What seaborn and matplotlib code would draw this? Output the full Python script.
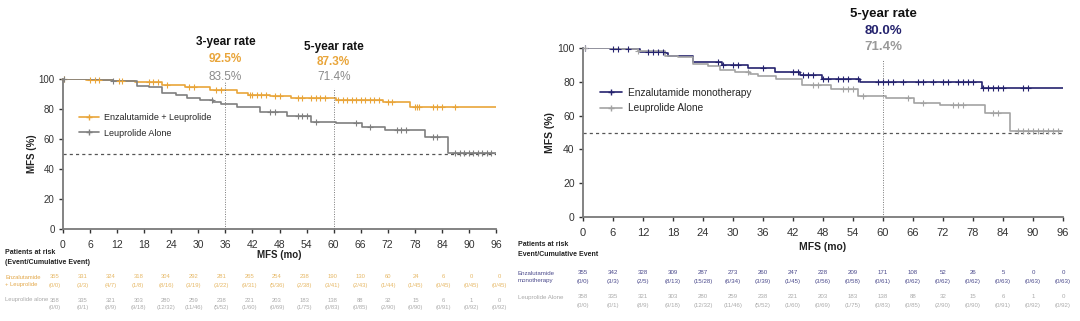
import numpy as np
import pandas as pd
import matplotlib
matplotlib.use("Agg")
import matplotlib.pyplot as plt
import seaborn as sns

sns.set_theme(style="white")
plt.rcParams["font.family"] = ["Liberation Sans", "DejaVu Sans"]

# ---- data ---------------------------------------------------------------
months = list(range(0, 97, 6))

# Kaplan-Meier step points (time in months, MFS %)
enz_leu_t = [0, 5, 11, 16, 22, 27, 32.5, 38.5, 41, 46, 50.5, 60.5, 71, 77]
enz_leu_s = [100, 99.3, 98.6, 97.9, 96.2, 95.0, 92.5, 90.8, 89.4, 88.8, 87.3, 85.8, 84.5, 81.5]

leu_t = [0, 7.5, 11, 16.3, 19, 22, 25, 27.4, 30.4, 33.3, 35, 38.5, 43.7, 49.6, 55, 60.5, 66.2, 71.4, 80.3, 85.3]
leu_s = [100, 99.3, 98.5, 95.3, 94.5, 90.4, 89.5, 87.1, 86.0, 84.4, 83.5, 81.5, 78.0, 75.5, 71.4, 70.5, 67.7, 66.0, 61.5, 51.0]

enz_mono_t = [0, 5.4, 9.4, 11.4, 16.4, 17, 22, 27.7, 33, 38.4, 43.4, 47.7, 55.4, 79.7]
enz_mono_s = [100, 99.5, 99.2, 97.8, 96.8, 95.3, 91.9, 89.9, 88.0, 86.0, 84.0, 81.7, 80.0, 76.2]

# censoring times
enz_leu_cens = [0.3, 6, 7, 8, 12.5, 13, 19, 20, 21, 23, 28, 29, 34, 35, 41.5, 42, 43, 44, 45,
                47, 48, 52, 53, 55, 56, 57, 58, 61, 62, 63, 64, 65, 66, 67, 68, 69, 70, 72,
                73, 78, 78.5, 79, 82, 83, 84, 87]
leu_cens = [0.3, 11, 33, 46, 47, 52, 53, 54, 56, 65, 68, 74, 75, 76, 82, 83, 87, 88, 89, 90,
            91, 92, 93, 94, 95]
enz_mono_cens = [0.3, 6, 7, 9, 13, 14, 15, 16, 27, 28, 30, 31, 36, 42, 43, 44, 45, 46, 48, 49,
                 51, 52, 53, 55, 59, 60, 61, 62, 64, 67, 68, 70, 72, 73, 75, 76, 77, 78, 80,
                 81, 82, 83, 84, 88, 89]

# rates
left_rates = {"3-year rate": (36, "92.5%", "83.5%"), "5-year rate": (60, "87.3%", "71.4%")}
right_rate = ("5-year rate", 60, "80.0%", "71.4%")

# numbers at risk (event / cumulative event)
risk_enz_leu = [355, 331, 324, 318, 304, 292, 281, 265, 254, 238, 190, 130, 60, 24, 6, 0, 0]
ev_enz_leu = ["(0/0)", "(3/3)", "(4/7)", "(1/8)", "(8/16)", "(3/19)", "(3/22)", "(9/31)", "(5/36)",
              "(2/38)", "(3/41)", "(2/43)", "(1/44)", "(1/45)", "(0/45)", "(0/45)", "(0/45)"]
risk_leu = [358, 335, 321, 303, 280, 259, 238, 221, 203, 183, 138, 88, 32, 15, 6, 1, 0]
ev_leu = ["(0/0)", "(0/1)", "(8/9)", "(9/18)", "(12/32)", "(11/46)", "(5/52)", "(1/60)", "(0/69)",
          "(1/75)", "(0/83)", "(0/85)", "(2/90)", "(0/90)", "(0/91)", "(0/92)", "(0/92)"]
risk_enz_mono = [355, 342, 328, 309, 287, 273, 260, 247, 228, 209, 171, 108, 52, 26, 5, 0, 0]
ev_enz_mono = ["(0/0)", "(3/3)", "(2/5)", "(8/13)", "(15/28)", "(6/34)", "(3/39)", "(1/45)", "(3/56)",
               "(0/58)", "(0/61)", "(0/62)", "(0/62)", "(0/62)", "(0/63)", "(0/63)", "(0/63)"]

ORANGE = "#E9A53A"
GRAY_L = "#7F7F7F"
NAVY = "#25236E"
GRAY_R = "#A3A3A3"

W, H = 1080, 321
fig = plt.figure(figsize=(W / 100, H / 100), dpi=100)


def px(x, y):
    return x / W, 1 - y / H


def step_df(t, s, name):
    t = list(t) + [96]
    s = list(s) + [s[-1]]
    return pd.DataFrame({"t": t, "s": s, "arm": name})


def surv_at(t, s, x):
    i = np.searchsorted(np.asarray(t), np.asarray(x), side="right") - 1
    return np.asarray(s)[i]


def km_axes(rect, arms, tick_fs, ytick_fs, lab_fs, leg_fs, leg_loc, leg_sp, ypad):
    ax = fig.add_axes(rect)
    df = pd.concat([step_df(t, s, n) for n, t, s, c, cens in arms])
    pal = {n: c for n, t, s, c, cens in arms}
    sns.lineplot(data=df, x="t", y="s", hue="arm", palette=pal, drawstyle="steps-post",
                 estimator=None, sort=False, linewidth=1.2, ax=ax, legend=False)
    for n, t, s, c, cens in arms:
        sns.scatterplot(x=cens, y=surv_at(t, s, cens), marker="+", s=14, color=c,
                        linewidth=0.8, ax=ax, clip_on=False, zorder=3)
    ax.axhline(50, color="#555555", lw=0.9, ls=(0, (2.5, 2.5)), zorder=1)
    ax.set_xlim(0, 96)
    ax.set_ylim(0, 100)
    ax.set_xticks(months)
    ax.set_yticks(range(0, 101, 20))
    ax.tick_params(axis="x", labelsize=tick_fs, colors="#333333", length=3, width=1,
                   direction="out", pad=5, bottom=True)
    ax.tick_params(axis="y", labelsize=ytick_fs, colors="#333333", length=3, width=1,
                   direction="out", pad=3, left=True)
    for sp in ["top", "right"]:
        ax.spines[sp].set_visible(False)
    for sp in ["left", "bottom"]:
        ax.spines[sp].set_color("#7A7A7A")
        ax.spines[sp].set_linewidth(1.3)
    ax.set_xlabel("MFS (mo)", fontsize=lab_fs, fontweight="bold", color="#222222")
    ax.set_ylabel("MFS (%)", fontsize=lab_fs, fontweight="bold", color="#222222", labelpad=ypad)
    handles = [plt.Line2D([], [], color=c, marker="+", ms=4, lw=1.2) for n, t, s, c, cens in arms]
    ax.legend(handles, [n for n, *_ in arms], loc="upper left", bbox_to_anchor=leg_loc,
              frameon=False, fontsize=leg_fs, handlelength=2.2, handletextpad=0.6,
              labelspacing=leg_sp, borderaxespad=0, borderpad=0)
    return ax


# ---- left panel: Enzalutamide + Leuprolide vs Leuprolide alone ----------
axL = km_axes([63 / W, (H - 229) / H, 433 / W, 150 / H],
              [("Enzalutamide + Leuprolide", enz_leu_t, enz_leu_s, ORANGE, enz_leu_cens),
               ("Leuprolide Alone", leu_t, leu_s, GRAY_L, leu_cens)],
              7.5, 7, 7, 6.5, (0.037, 0.775), 0.75, 1)
axL.xaxis.set_label_coords(0.5, -0.14)
axL.xaxis.label.set_va("top")
axL.vlines([36], 0, 98, colors="#777777", lw=0.7, ls=(0, (1, 1.5)))
axL.vlines([60], 0, 94, colors="#777777", lw=0.7, ls=(0, (1, 1.5)))

for title, (tx, a, b), ys in [("3-year rate", left_rates["3-year rate"], (42, 59, 77)),
                              ("5-year rate", left_rates["5-year rate"], (47, 62, 77))]:
    xp = 63 + tx * 433 / 96
    fig.text(*px(xp, ys[0]), title, ha="center", va="center", fontsize=8.5,
             fontweight="bold", color="#111111")
    fig.text(*px(xp, ys[1]), a, ha="center", va="center", fontsize=8.5,
             fontweight="bold", color=ORANGE)
    fig.text(*px(xp, ys[2]), b, ha="center", va="center", fontsize=8.5, color="#8A8A8A")

# ---- right panel: Enzalutamide monotherapy vs Leuprolide alone ---------
axR = km_axes([583 / W, (H - 217) / H, 480 / W, 169 / H],
              [("Enzalutamide monotherapy", enz_mono_t, enz_mono_s, NAVY, enz_mono_cens),
               ("Leuprolide Alone", leu_t, leu_s, GRAY_R, leu_cens)],
              8, 7.5, 7.5, 7.3, (0.035, 0.765), 0.55, 2)
axR.xaxis.set_label_coords(0.5, -0.148)
axR.xaxis.label.set_va("top")
axR.vlines([60], 0, 93, colors="#777777", lw=0.7, ls=(0, (1, 1.5)))

title, tx, a, b = right_rate
xp = 583 + tx * 480 / 96
fig.text(*px(xp, 14), title, ha="center", va="center", fontsize=9.5, fontweight="bold",
         color="#111111")
fig.text(*px(xp, 31), a, ha="center", va="center", fontsize=9.5, fontweight="bold", color=NAVY)
fig.text(*px(xp, 47), b, ha="center", va="center", fontsize=9.5, fontweight="bold",
         color="#9A9A9A")

# ---- numbers at risk ---------------------------------------------------
fig.text(*px(5, 253), "Patients at risk", fontsize=5, fontweight="bold", va="center",
         color="#222222")
fig.text(*px(5, 262), "(Event/Cumulative Event)", fontsize=5, fontweight="bold", va="center",
         color="#222222")
fig.text(*px(5, 281), "Enzalutamide\n+ Leuprolide", fontsize=4.2, va="center",
         color="#E3A84A", linespacing=1.3)
fig.text(*px(5, 300), "Leuprolide alone", fontsize=4.2, va="center", color="#A8A8A8")

fig.text(*px(518, 245), "Patients at risk", fontsize=5, fontweight="bold", va="center",
         color="#222222")
fig.text(*px(518, 254), "Event/Cumulative Event", fontsize=5, fontweight="bold", va="center",
         color="#222222")
fig.text(*px(518, 277), "Enzalutamide\nmonotherapy", fontsize=4.4, va="center",
         color="#4B4A8C", linespacing=1.3)
fig.text(*px(518, 297), "Leuprolide Alone", fontsize=4.4, va="center", color="#A8A8A8")


def risk_row(xs, counts, events, y1, y2, color, fs):
    for x, n, e in zip(xs, counts, events):
        fig.text(*px(x, y1), str(n), ha="center", va="center", fontsize=fs, color=color)
        fig.text(*px(x, y2), e, ha="center", va="center", fontsize=fs, color=color)


xs_left = [55 + 27.75 * i for i in range(len(months))]
xs_right = [583 + m * 480 / 96 for m in months]
risk_row(xs_left, risk_enz_leu, ev_enz_leu, 277, 285, "#E6B866", 4.2)
risk_row(xs_left, risk_leu, ev_leu, 300, 307, "#ABABAB", 4.2)
risk_row(xs_right, risk_enz_mono, ev_enz_mono, 273, 281, "#4B4A8C", 4.4)
risk_row(xs_right, risk_leu, ev_leu, 297, 305, "#ABABAB", 4.4)

fig.savefig("out.png", dpi=100, facecolor="white")
